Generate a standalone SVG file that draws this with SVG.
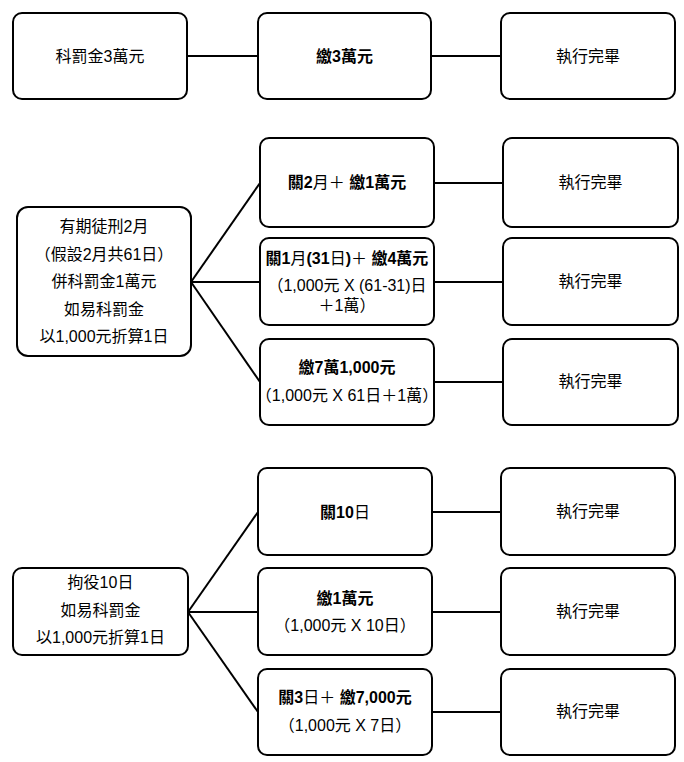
<svg xmlns="http://www.w3.org/2000/svg" width="684" height="762" viewBox="0 0 684 762">
<style>
.box{fill:#fff;stroke:#000;stroke-width:2}
.ln{stroke:#000;stroke-width:2;fill:none}
text{font-family:"Liberation Sans","Noto Sans CJK TC",sans-serif;font-size:16px;fill:#000;text-anchor:middle;dominant-baseline:central}
.b{font-weight:bold}
.n{font-weight:normal}
</style>
<rect width="684" height="762" fill="#fff"/>
<g id="connectors">
<line class="ln" x1="187" y1="56" x2="258" y2="56"/>
<line class="ln" x1="431" y1="56" x2="501" y2="56"/>
<line class="ln" x1="191" y1="282" x2="260" y2="183"/>
<line class="ln" x1="191" y1="282" x2="260" y2="282"/>
<line class="ln" x1="191" y1="282" x2="260" y2="382"/>
<line class="ln" x1="434" y1="183" x2="503" y2="183"/>
<line class="ln" x1="434" y1="282" x2="503" y2="282"/>
<line class="ln" x1="434" y1="382" x2="503" y2="382"/>
<line class="ln" x1="188" y1="612" x2="258" y2="512"/>
<line class="ln" x1="188" y1="612" x2="258" y2="612"/>
<line class="ln" x1="188" y1="612" x2="258" y2="712"/>
<line class="ln" x1="432" y1="512" x2="501" y2="512"/>
<line class="ln" x1="432" y1="612" x2="501" y2="612"/>
<line class="ln" x1="432" y1="712" x2="501" y2="712"/>
</g>
<g id="n1"><rect class="box" x="13" y="13" width="174" height="86" rx="9"/><text x="100" y="56">科罰金3萬元</text></g>
<g id="n2"><rect class="box" x="258" y="13" width="173" height="86" rx="9"/><text class="b" x="344.5" y="56">繳3萬元</text></g>
<g id="n3"><rect class="box" x="501" y="13" width="174" height="86" rx="9"/><text x="588" y="56">執行完畢</text></g>

<g id="n4"><rect class="box" x="17" y="207" width="174" height="149" rx="11"/>
<text x="104" y="226">有期徒刑2月</text>
<text x="104" y="254">（假設2月共61日）</text>
<text x="104" y="281">併科罰金1萬元</text>
<text x="104" y="309">如易科罰金</text>
<text x="104" y="336">以1,000元折算1日</text></g>
<g id="n5"><rect class="box" x="260" y="138" width="174" height="89" rx="9"/><text class="b" x="347" y="182">關2<tspan class="n">月＋</tspan> 繳1萬元</text></g>
<g id="n6"><rect class="box" x="260" y="238" width="174" height="87" rx="9"/>
<text class="b" x="347" y="258">關1<tspan class="n">月</tspan>(31<tspan class="n">日</tspan>)<tspan class="n">＋</tspan> 繳4萬元</text>
<text x="347" y="285">（1,000元 X (61-31)日</text>
<text x="347" y="305">＋1萬）</text></g>
<g id="n7"><rect class="box" x="260" y="339" width="174" height="86" rx="9"/>
<text class="b" x="347" y="367">繳7萬1,000元</text>
<text x="347" y="395">（1,000元 X 61日＋1萬）</text></g>
<g id="n8"><rect class="box" x="503" y="138" width="175" height="89" rx="9"/><text x="590.5" y="182">執行完畢</text></g>
<g id="n9"><rect class="box" x="503" y="238" width="175" height="87" rx="9"/><text x="590.5" y="281">執行完畢</text></g>
<g id="n10"><rect class="box" x="503" y="339" width="175" height="86" rx="9"/><text x="590.5" y="381">執行完畢</text></g>

<g id="n11"><rect class="box" x="13" y="568" width="175" height="87" rx="9"/>
<text x="100.5" y="582">拘役10日</text>
<text x="100.5" y="610">如易科罰金</text>
<text x="100.5" y="637">以1,000元折算1日</text></g>
<g id="n12"><rect class="box" x="258" y="468" width="174" height="87" rx="9"/><text class="b" x="345" y="512">關10<tspan class="n">日</tspan></text></g>
<g id="n13"><rect class="box" x="258" y="568" width="174" height="87" rx="9"/>
<text class="b" x="345" y="598">繳1萬元</text>
<text x="345" y="625">（1,000元 X 10日）</text></g>
<g id="n14"><rect class="box" x="258" y="669" width="174" height="86" rx="9"/>
<text class="b" x="345" y="697">關3<tspan class="n">日＋</tspan> 繳7,000元</text>
<text x="345" y="725">（1,000元 X 7日）</text></g>
<g id="n15"><rect class="box" x="501" y="468" width="174" height="87" rx="9"/><text x="588" y="511">執行完畢</text></g>
<g id="n16"><rect class="box" x="501" y="568" width="174" height="87" rx="9"/><text x="588" y="611">執行完畢</text></g>
<g id="n17"><rect class="box" x="501" y="669" width="174" height="86" rx="9"/><text x="588" y="711">執行完畢</text></g>
</svg>
